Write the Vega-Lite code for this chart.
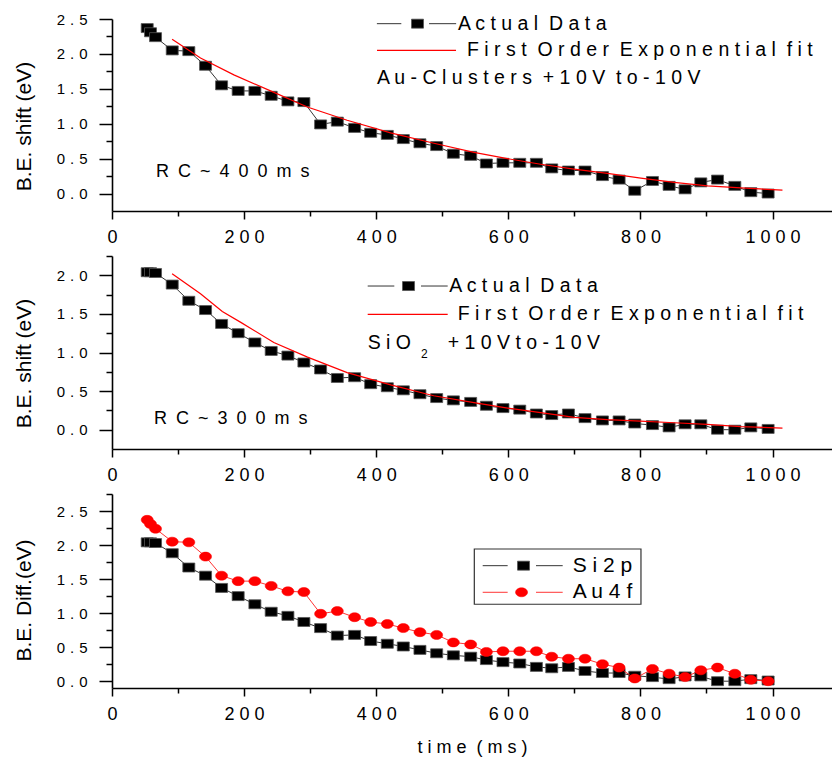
{
  "$schema": "https://vega.github.io/schema/vega-lite/v6.json",
  "background": "white",
  "padding": {"left": 13, "top": 12, "right": 0, "bottom": 4},
  "bounds": "flush",
  "spacing": 45,
  "config": {
    "view": {"stroke": null},
    "font": "Liberation Sans",
    "axis": {
      "domainColor": "#000", "domainWidth": 1.6,
      "tickColor": "#000", "tickWidth": 1.5,
      "labelColor": "#000", "titleColor": "#000",
      "labelFont": "Liberation Sans", "titleFont": "Liberation Sans",
      "titleFontWeight": "normal", "grid": false,
      "labelFlush": false, "labelBound": false
    },
    "text": {"font": "Liberation Sans", "color": "#000"}
  },
  "datasets": {
    "au": [
      {"t": 53.3, "be": 2.37}, {"t": 58.3, "be": 2.31}, {"t": 65.9, "be": 2.24}, {"t": 91.2, "be": 2.05},
      {"t": 116.3, "be": 2.04}, {"t": 141.6, "be": 1.83}, {"t": 165.9, "be": 1.55}, {"t": 191.0, "be": 1.47},
      {"t": 216.3, "be": 1.47}, {"t": 241.0, "be": 1.40}, {"t": 266.3, "be": 1.32}, {"t": 290.5, "be": 1.31},
      {"t": 315.8, "be": 0.99}, {"t": 341.1, "be": 1.03}, {"t": 367.3, "be": 0.94}, {"t": 391.6, "be": 0.87},
      {"t": 416.8, "be": 0.84}, {"t": 441.0, "be": 0.78}, {"t": 466.2, "be": 0.72}, {"t": 491.5, "be": 0.68},
      {"t": 516.8, "be": 0.57}, {"t": 543.0, "be": 0.54}, {"t": 566.8, "be": 0.43}, {"t": 591.9, "be": 0.44},
      {"t": 617.3, "be": 0.44}, {"t": 642.5, "be": 0.44}, {"t": 665.7, "be": 0.36}, {"t": 691.0, "be": 0.33},
      {"t": 716.1, "be": 0.33}, {"t": 742.5, "be": 0.25}, {"t": 767.7, "be": 0.20}, {"t": 791.4, "be": 0.04},
      {"t": 818.2, "be": 0.18}, {"t": 843.4, "be": 0.11}, {"t": 867.6, "be": 0.06}, {"t": 891.4, "be": 0.16},
      {"t": 916.7, "be": 0.20}, {"t": 942.9, "be": 0.11}, {"t": 967.1, "be": 0.02}, {"t": 993.3, "be": 0.00}
    ],
    "au_fit": [
      {"t": 91, "be": 2.21}, {"t": 134, "be": 1.94}, {"t": 184.5, "be": 1.70}, {"t": 240, "be": 1.47},
      {"t": 295.7, "be": 1.24}, {"t": 356, "be": 1.05}, {"t": 421.8, "be": 0.87}, {"t": 487.4, "be": 0.72},
      {"t": 548, "be": 0.59}, {"t": 598.6, "be": 0.50}, {"t": 649, "be": 0.42}, {"t": 699.5, "be": 0.35},
      {"t": 750, "be": 0.29}, {"t": 800.5, "be": 0.22}, {"t": 851, "be": 0.16}, {"t": 901.5, "be": 0.11},
      {"t": 952, "be": 0.08}, {"t": 1015, "be": 0.05}
    ],
    "sio2": [
      {"t": 53.3, "be": 2.04}, {"t": 58.3, "be": 2.04}, {"t": 65.9, "be": 2.03}, {"t": 91.2, "be": 1.88},
      {"t": 116.3, "be": 1.67}, {"t": 141.6, "be": 1.55}, {"t": 165.9, "be": 1.37}, {"t": 191.0, "be": 1.25},
      {"t": 216.3, "be": 1.13}, {"t": 241.0, "be": 1.02}, {"t": 266.3, "be": 0.96}, {"t": 290.5, "be": 0.87},
      {"t": 315.8, "be": 0.78}, {"t": 341.1, "be": 0.67}, {"t": 367.3, "be": 0.68}, {"t": 391.6, "be": 0.59},
      {"t": 416.8, "be": 0.55}, {"t": 441.0, "be": 0.51}, {"t": 466.2, "be": 0.46}, {"t": 491.5, "be": 0.41},
      {"t": 516.8, "be": 0.38}, {"t": 543.0, "be": 0.36}, {"t": 566.8, "be": 0.31}, {"t": 591.9, "be": 0.28},
      {"t": 617.3, "be": 0.26}, {"t": 642.5, "be": 0.21}, {"t": 665.7, "be": 0.19}, {"t": 691.0, "be": 0.21},
      {"t": 716.1, "be": 0.15}, {"t": 742.5, "be": 0.12}, {"t": 767.7, "be": 0.12}, {"t": 791.4, "be": 0.08},
      {"t": 818.2, "be": 0.06}, {"t": 843.4, "be": 0.03}, {"t": 867.6, "be": 0.07}, {"t": 891.4, "be": 0.07},
      {"t": 916.7, "be": 0.00}, {"t": 942.9, "be": 0.00}, {"t": 967.1, "be": 0.03}, {"t": 993.3, "be": 0.01}
    ],
    "sio2_fit": [
      {"t": 91, "be": 2.02}, {"t": 134, "be": 1.76}, {"t": 167, "be": 1.53}, {"t": 195, "be": 1.39},
      {"t": 245, "be": 1.13}, {"t": 296, "be": 0.94}, {"t": 356, "be": 0.74}, {"t": 422, "be": 0.58},
      {"t": 487, "be": 0.44}, {"t": 548, "be": 0.35}, {"t": 599, "be": 0.28}, {"t": 649, "be": 0.22},
      {"t": 700, "be": 0.16}, {"t": 750, "be": 0.13}, {"t": 800, "be": 0.11}, {"t": 851, "be": 0.09},
      {"t": 901, "be": 0.07}, {"t": 952, "be": 0.04}, {"t": 1015, "be": 0.02}
    ]
  },
  "vconcat": [
    {
      "width": 720, "height": 192,
      "layer": [
        {
          "data": {"name": "au"},
          "mark": {"type": "line", "color": "#000", "strokeWidth": 0.8},
          "encoding": {
            "x": {"field": "t", "type": "quantitative",
              "scale": {"domain": [0, 1090], "nice": false, "zero": false},
              "axis": {"values": [0, 100, 200, 300, 400, 500, 600, 700, 800, 900, 1000], "tickCount": 50,
                "tickSize": {"condition": {"test": "datum.value % 200 === 0", "value": 8}, "value": 5},
                "labelExpr": "datum.value % 200 === 0 ? join(split(format(datum.value, 'd'), ''), ' ') : ''",
                "labelFontSize": 18, "labelPadding": 9, "labelOverlap": {"expr": "false"}, "title": null}},
            "y": {"field": "be", "type": "quantitative",
              "scale": {"domain": [-0.25, 2.5], "nice": false, "zero": false},
              "axis": {"values": [0, 0.25, 0.5, 0.75, 1, 1.25, 1.5, 1.75, 2, 2.25, 2.5], "tickCount": 50,
                "tickSize": {"condition": {"test": "abs(datum.value * 2 - round(datum.value * 2)) < 0.001", "value": 13}, "value": 6},
                "labelExpr": "abs(datum.value * 2 - round(datum.value * 2)) < 0.001 ? join(split(format(datum.value, '.1f'), ''), '\u2004') : ''",
                "labelFontSize": 15, "labelPadding": 12, "labelOverlap": {"expr": "false"},
                "title": "B.E. shift (eV)", "titleFontSize": 21, "titlePadding": 22, "titleY": 107}}
          }
        },
        {
          "data": {"name": "au"},
          "mark": {"type": "point", "shape": "M-1,-0.75H1V0.75H-1Z", "filled": true, "fill": "#000", "stroke": "#555", "strokeWidth": 0.8, "size": 144, "opacity": 1},
          "encoding": {"x": {"field": "t", "type": "quantitative"}, "y": {"field": "be", "type": "quantitative"}}
        },
        {
          "data": {"name": "au_fit"},
          "mark": {"type": "line", "color": "#ff0000", "strokeWidth": 1.2},
          "encoding": {"x": {"field": "t", "type": "quantitative"}, "y": {"field": "be", "type": "quantitative"}}
        },
        {
          "data": {"values": [{}]},
          "mark": {"type": "rule", "color": "#000", "strokeWidth": 0.8},
          "encoding": {"x": {"datum": 401}, "x2": {"datum": 438}, "y": {"datum": 2.433}}
        },
        {
          "data": {"values": [{}]},
          "mark": {"type": "rule", "color": "#000", "strokeWidth": 0.8},
          "encoding": {"x": {"datum": 480}, "x2": {"datum": 521}, "y": {"datum": 2.433}}
        },
        {
          "data": {"values": [{}]},
          "mark": {"type": "point", "shape": "M-1,-0.75H1V0.75H-1Z", "filled": true, "fill": "#000", "stroke": "#555", "strokeWidth": 0.8, "size": 144, "opacity": 1},
          "encoding": {"x": {"datum": 462.5}, "y": {"datum": 2.433}}
        },
        {
          "data": {"values": [{}]},
          "mark": {"type": "text", "align": "left", "baseline": "middle", "fontSize": 19.5},
          "encoding": {"x": {"datum": 523.8}, "y": {"datum": 2.433}, "text": {"value": "A c t u a l\u00a0 D a t a"}}
        },
        {
          "data": {"values": [{}]},
          "mark": {"type": "rule", "color": "#ff0000", "strokeWidth": 1.2},
          "encoding": {"x": {"datum": 401.2}, "x2": {"datum": 520.8}, "y": {"datum": 2.05}}
        },
        {
          "data": {"values": [{}]},
          "mark": {"type": "text", "align": "left", "baseline": "middle", "fontSize": 19.5},
          "encoding": {"x": {"datum": 537.4}, "y": {"datum": 2.05}, "text": {"value": "F i r s t\u00a0 O r d e r\u00a0 E x p o n e n t i a l\u00a0 f i t"}}
        },
        {
          "data": {"values": [{}]},
          "mark": {"type": "text", "align": "left", "baseline": "middle", "fontSize": 19.5},
          "encoding": {"x": {"datum": 401.2}, "y": {"datum": 1.655}, "text": {"value": "A u - C l u s t e r s\u00a0 + 1 0 V\u00a0 t o - 1 0 V"}}
        },
        {
          "data": {"values": [{}]},
          "mark": {"type": "text", "align": "left", "baseline": "middle", "fontSize": 18},
          "encoding": {"x": {"datum": 66.6}, "y": {"datum": 0.303}, "text": {"value": "R\u2002C\u2002~\u20024\u20020\u20020\u2002m\u2002s"}}
        }
      ]
    },
    {
      "width": 720, "height": 193,
      "layer": [
        {
          "data": {"name": "sio2"},
          "mark": {"type": "line", "color": "#000", "strokeWidth": 0.8},
          "encoding": {
            "x": {"field": "t", "type": "quantitative",
              "scale": {"domain": [0, 1090], "nice": false, "zero": false},
              "axis": {"values": [0, 100, 200, 300, 400, 500, 600, 700, 800, 900, 1000], "tickCount": 50,
                "tickSize": {"condition": {"test": "datum.value % 200 === 0", "value": 8}, "value": 5},
                "labelExpr": "datum.value % 200 === 0 ? join(split(format(datum.value, 'd'), ''), ' ') : ''",
                "labelFontSize": 18, "labelPadding": 9, "labelOverlap": {"expr": "false"}, "title": null}},
            "y": {"field": "be", "type": "quantitative",
              "scale": {"domain": [-0.25, 2.25], "nice": false, "zero": false},
              "axis": {"values": [0, 0.25, 0.5, 0.75, 1, 1.25, 1.5, 1.75, 2, 2.25], "tickCount": 50,
                "tickSize": {"condition": {"test": "abs(datum.value * 2 - round(datum.value * 2)) < 0.001", "value": 13}, "value": 6},
                "labelExpr": "abs(datum.value * 2 - round(datum.value * 2)) < 0.001 ? join(split(format(datum.value, '.1f'), ''), '\u2004') : ''",
                "labelFontSize": 15, "labelPadding": 12, "labelOverlap": {"expr": "false"},
                "title": "B.E. shift (eV)", "titleFontSize": 21, "titlePadding": 22, "titleY": 107}}
          }
        },
        {
          "data": {"name": "sio2"},
          "mark": {"type": "point", "shape": "M-1,-0.75H1V0.75H-1Z", "filled": true, "fill": "#000", "stroke": "#555", "strokeWidth": 0.8, "size": 144, "opacity": 1},
          "encoding": {"x": {"field": "t", "type": "quantitative"}, "y": {"field": "be", "type": "quantitative"}}
        },
        {
          "data": {"name": "sio2_fit"},
          "mark": {"type": "line", "color": "#ff0000", "strokeWidth": 1.2},
          "encoding": {"x": {"field": "t", "type": "quantitative"}, "y": {"field": "be", "type": "quantitative"}}
        },
        {
          "data": {"values": [{}]},
          "mark": {"type": "rule", "color": "#000", "strokeWidth": 0.8},
          "encoding": {"x": {"datum": 387.1}, "x2": {"datum": 427.4}, "y": {"datum": 1.861}}
        },
        {
          "data": {"values": [{}]},
          "mark": {"type": "rule", "color": "#000", "strokeWidth": 0.8},
          "encoding": {"x": {"datum": 467.8}, "x2": {"datum": 508.2}, "y": {"datum": 1.861}}
        },
        {
          "data": {"values": [{}]},
          "mark": {"type": "point", "shape": "M-1,-0.75H1V0.75H-1Z", "filled": true, "fill": "#000", "stroke": "#555", "strokeWidth": 0.8, "size": 144, "opacity": 1},
          "encoding": {"x": {"datum": 448.9}, "y": {"datum": 1.861}}
        },
        {
          "data": {"values": [{}]},
          "mark": {"type": "text", "align": "left", "baseline": "middle", "fontSize": 19.5},
          "encoding": {"x": {"datum": 510.6}, "y": {"datum": 1.861}, "text": {"value": "A c t u a l\u00a0 D a t a"}}
        },
        {
          "data": {"values": [{}]},
          "mark": {"type": "rule", "color": "#ff0000", "strokeWidth": 1.2},
          "encoding": {"x": {"datum": 387.1}, "x2": {"datum": 508.2}, "y": {"datum": 1.495}}
        },
        {
          "data": {"values": [{}]},
          "mark": {"type": "text", "align": "left", "baseline": "middle", "fontSize": 19.5},
          "encoding": {"x": {"datum": 523.4}, "y": {"datum": 1.495}, "text": {"value": "F i r s t\u00a0 O r d e r\u00a0 E x p o n e n t i a l\u00a0 f i t"}}
        },
        {
          "data": {"values": [{}]},
          "mark": {"type": "text", "align": "left", "baseline": "middle", "fontSize": 19.5},
          "encoding": {"x": {"datum": 387.1}, "y": {"datum": 1.128}, "text": {"value": "S i O"}}
        },
        {
          "data": {"values": [{}]},
          "mark": {"type": "text", "align": "left", "baseline": "middle", "fontSize": 12},
          "encoding": {"x": {"datum": 467.8}, "y": {"datum": 0.977}, "text": {"value": "2"}}
        },
        {
          "data": {"values": [{}]},
          "mark": {"type": "text", "align": "left", "baseline": "middle", "fontSize": 19.5},
          "encoding": {"x": {"datum": 508.2}, "y": {"datum": 1.128}, "text": {"value": "+ 1 0 V t o - 1 0 V"}}
        },
        {
          "data": {"values": [{}]},
          "mark": {"type": "text", "align": "left", "baseline": "middle", "fontSize": 18},
          "encoding": {"x": {"datum": 63.6}, "y": {"datum": 0.135}, "text": {"value": "R\u2002C\u2002~\u20023\u20020\u20020\u2002m\u2002s"}}
        }
      ]
    },
    {
      "width": 720, "height": 194,
      "layer": [
        {
          "data": {"name": "sio2"},
          "mark": {"type": "line", "color": "#000", "strokeWidth": 0.8},
          "encoding": {
            "x": {"field": "t", "type": "quantitative",
              "scale": {"domain": [0, 1090], "nice": false, "zero": false},
              "axis": {"values": [0, 100, 200, 300, 400, 500, 600, 700, 800, 900, 1000], "tickCount": 50,
                "tickSize": {"condition": {"test": "datum.value % 200 === 0", "value": 8}, "value": 5},
                "labelExpr": "datum.value % 200 === 0 ? join(split(format(datum.value, 'd'), ''), ' ') : ''",
                "labelFontSize": 18, "labelPadding": 9, "labelOverlap": {"expr": "false"},
                "title": "t i m e\u00a0 ( m s )", "titleFontSize": 18, "titlePadding": 15}},
            "y": {"field": "be", "type": "quantitative",
              "scale": {"domain": [-0.1, 2.75], "nice": false, "zero": false},
              "axis": {"values": [0, 0.25, 0.5, 0.75, 1, 1.25, 1.5, 1.75, 2, 2.25, 2.5, 2.75], "tickCount": 50,
                "tickSize": {"condition": {"test": "abs(datum.value * 2 - round(datum.value * 2)) < 0.001", "value": 13}, "value": 6},
                "labelExpr": "abs(datum.value * 2 - round(datum.value * 2)) < 0.001 ? join(split(format(datum.value, '.1f'), ''), '\u2004') : ''",
                "labelFontSize": 15, "labelPadding": 12, "labelOverlap": {"expr": "false"},
                "title": "B.E. Diff.(eV)", "titleFontSize": 21, "titlePadding": 22, "titleY": 106}}
          }
        },
        {
          "data": {"name": "sio2"},
          "mark": {"type": "point", "shape": "M-1,-0.75H1V0.75H-1Z", "filled": true, "fill": "#000", "stroke": "#555", "strokeWidth": 0.8, "size": 144, "opacity": 1},
          "encoding": {"x": {"field": "t", "type": "quantitative"}, "y": {"field": "be", "type": "quantitative"}}
        },
        {
          "data": {"name": "au"},
          "mark": {"type": "line", "color": "#ff0000", "strokeWidth": 0.8},
          "encoding": {"x": {"field": "t", "type": "quantitative"}, "y": {"field": "be", "type": "quantitative"}}
        },
        {
          "data": {"name": "au"},
          "mark": {"type": "point", "shape": "M-1,0A1,0.75,0,1,0,1,0A1,0.75,0,1,0,-1,0Z", "filled": true, "fill": "#ff0000", "stroke": "#ff0000", "strokeWidth": 0.5, "size": 144, "opacity": 1},
          "encoding": {"x": {"field": "t", "type": "quantitative"}, "y": {"field": "be", "type": "quantitative"}}
        },
        {
          "data": {"values": [{}]},
          "mark": {"type": "rect", "filled": false, "color": "#333", "strokeWidth": 1.2},
          "encoding": {"x": {"datum": 548.5}, "x2": {"datum": 800.8}, "y": {"datum": 1.942}, "y2": {"datum": 1.13}}
        },
        {
          "data": {"values": [{}]},
          "mark": {"type": "rule", "color": "#000", "strokeWidth": 0.8},
          "encoding": {"x": {"datum": 561.2}, "x2": {"datum": 599}, "y": {"datum": 1.697}}
        },
        {
          "data": {"values": [{}]},
          "mark": {"type": "rule", "color": "#000", "strokeWidth": 0.8},
          "encoding": {"x": {"datum": 641.9}, "x2": {"datum": 682.3}, "y": {"datum": 1.697}}
        },
        {
          "data": {"values": [{}]},
          "mark": {"type": "point", "shape": "M-1,-0.75H1V0.75H-1Z", "filled": true, "fill": "#000", "stroke": "#555", "strokeWidth": 0.8, "size": 144, "opacity": 1},
          "encoding": {"x": {"datum": 623}, "y": {"datum": 1.697}}
        },
        {
          "data": {"values": [{}]},
          "mark": {"type": "text", "align": "left", "baseline": "middle", "fontSize": 21},
          "encoding": {"x": {"datum": 697.4}, "y": {"datum": 1.697}, "text": {"value": "S i 2 p"}}
        },
        {
          "data": {"values": [{}]},
          "mark": {"type": "rule", "color": "#ff0000", "strokeWidth": 0.8},
          "encoding": {"x": {"datum": 561.2}, "x2": {"datum": 599}, "y": {"datum": 1.306}}
        },
        {
          "data": {"values": [{}]},
          "mark": {"type": "rule", "color": "#ff0000", "strokeWidth": 0.8},
          "encoding": {"x": {"datum": 641.9}, "x2": {"datum": 682.3}, "y": {"datum": 1.306}}
        },
        {
          "data": {"values": [{}]},
          "mark": {"type": "point", "shape": "M-1,0A1,0.75,0,1,0,1,0A1,0.75,0,1,0,-1,0Z", "filled": true, "fill": "#ff0000", "stroke": "#ff0000", "strokeWidth": 0.5, "size": 144, "opacity": 1},
          "encoding": {"x": {"datum": 620}, "y": {"datum": 1.306}}
        },
        {
          "data": {"values": [{}]},
          "mark": {"type": "text", "align": "left", "baseline": "middle", "fontSize": 21},
          "encoding": {"x": {"datum": 697.4}, "y": {"datum": 1.306}, "text": {"value": "A u 4 f"}}
        }
      ]
    }
  ]
}
